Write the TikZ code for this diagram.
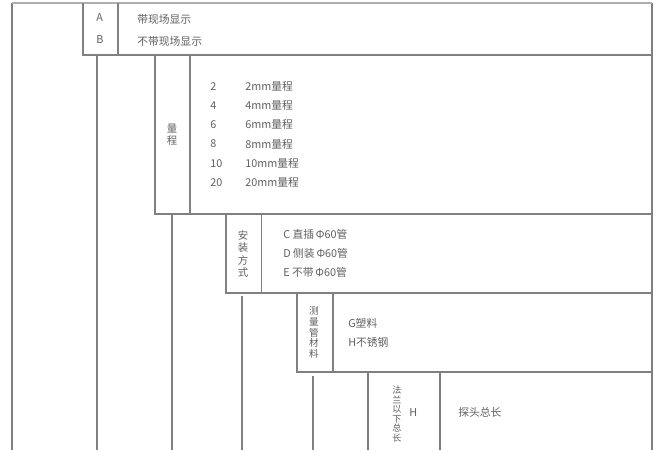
\documentclass[tikz,border=0pt]{standalone}
\usepackage{fontspec}
\setmainfont{Noto Sans CJK SC}
\definecolor{lnc}{RGB}{128,128,128}
\definecolor{topc}{RGB}{175,175,175}
\definecolor{txc}{RGB}{95,95,95}
\begin{document}
\begin{tikzpicture}[x=0.75pt,y=-0.75pt,
  ln/.style={draw=lnc, line width=0.8pt},
  topln/.style={draw=topc, line width=1.6pt},
  txt/.style={inner sep=0pt, anchor=west, text=txc, font=\fontsize{8.1pt}{9pt}\selectfont},
  vlab/.style={inner sep=0pt, align=center, text=txc, font=\fontsize{7.8pt}{9.2pt}\selectfont},
  vlabs/.style={inner sep=0pt, align=center, text=txc, font=\fontsize{6.8pt}{7.1pt}\selectfont}]
\useasboundingbox (0,0) rectangle (660,450);
% frame
\coordinate (TL) at (12,3);
\coordinate (TR) at (652,3);
\draw[ln] (TL) -- (12,450);
\draw[ln] (TR) -- (652,450);
\draw[topln] (TL) -- (TR);
% level 1
\draw[ln] (83,3) -- (83,55) -- (652,55);
\draw[ln] (118,3) -- (118,55);
\draw[ln] (97,56) -- (97,450);
\node[txt] (a) at (96,18) {A};
\node[txt] (b) at (96,40) {B};
\node[txt] (a1) at (137,19) {带现场显示};
\node[txt] (b1) at (137,41) {不带现场显示};
% level 2
\draw[ln] (155,56) -- (155,214) -- (652,214);
\draw[ln] (190,56) -- (190,214);
\draw[ln] (172,215) -- (172,450);
\node[vlab] (lc) at (172,135) {量\\程};
\foreach \n/\t [count=\i from 0] in {2/2mm量程,4/4mm量程,6/6mm量程,8/8mm量程,10/10mm量程,20/20mm量程}{
  \node[txt] (n\i) at (210,{86.5+19.2*\i}) {\n};
  \node[txt] (t\i) at (245,{86.5+19.2*\i}) {\t};
}
% level 3
\draw[ln] (226,214) -- (226,293) -- (652,293);
\draw[ln] (261.5,214) -- (261.5,293);
\draw[ln] (242,296) -- (242,450);
\node[vlab] (az) at (243,254) {安\\装\\方\\式};
\node[txt] (c) at (283,234) {C 直插\,Φ60管};
\node[txt] (d) at (283,253) {D 侧装\,Φ60管};
\node[txt] (e) at (283,272.5) {E 不带\,Φ60管};
% level 4
\draw[ln] (297,293) -- (297,372) -- (652,372);
\draw[ln] (333,293) -- (333,372);
\draw[ln] (313,376) -- (313,450);
\node[vlabs, font=\fontsize{7.2pt}{8pt}\selectfont] (cl) at (314,332.5) {测\\量\\管\\材\\料};
\node[txt] (g) at (348,323) {G塑料};
\node[txt] (h) at (348,342.5) {H不锈钢};
% level 5
\draw[ln] (368,372) -- (368,450);
\draw[ln] (440,372) -- (440,450);
\node[vlabs] (fl) at (397,414) {法\\兰\\以\\下\\总\\长};
\node[txt] (hh) at (409,413) {H};
\node[txt] (tt) at (458,412) {探头总长};
\end{tikzpicture}
\end{document}
